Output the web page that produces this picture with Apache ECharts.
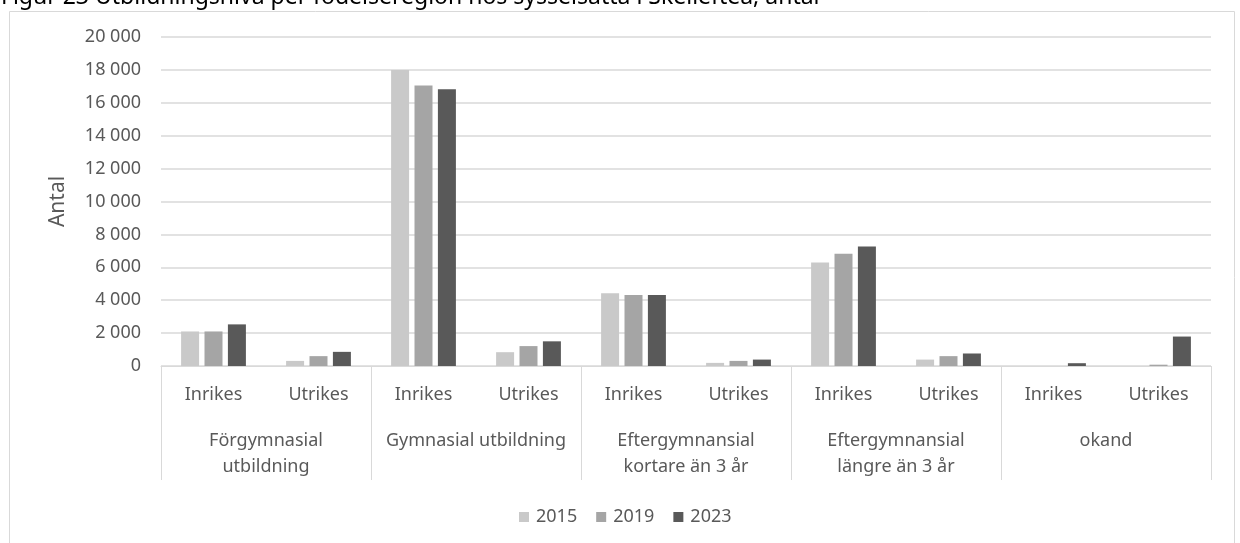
<!DOCTYPE html>
<html>
<head>
<meta charset="utf-8">
<script src="https://cdn.jsdelivr.net/npm/echarts@6/dist/echarts.min.js"></script>
<style>
  html, body { margin: 0; padding: 0; background: #fff; }
  #Canvas1 { width: 1240px; height: 543px; }
</style>
</head>
<body>
<div id="Canvas1"></div>
<script>
// data
var regions = ['Inrikes', 'Utrikes', 'Inrikes', 'Utrikes', 'Inrikes', 'Utrikes', 'Inrikes', 'Utrikes', 'Inrikes', 'Utrikes'];
var levels = ['Förgymnasial\nutbildning', 'Gymnasial utbildning', 'Eftergymnansial\nkortare än 3 år', 'Eftergymnansial\nlängre än 3 år', 'okand'];
var years = ['2015', '2019', '2023'];
var v2015 = [2100, 310, 17990, 840, 4430, 190, 6290, 390, 0, 0];
var v2019 = [2100, 600, 17050, 1210, 4310, 310, 6820, 600, 0, 80];
var v2023 = [2530, 860, 16830, 1500, 4310, 390, 7270, 760, 170, 1790];
var yTicks = { min: 0, max: 20000, step: 2000 };

var txt = '#595959';
var font = 'Noto Sans';

function fmt(v) {
    return String(v).replace(/\B(?=(\d{3})+(?!\d))/g, ' ');
}

var myChart = echarts.init(document.getElementById('Canvas1'));
var option = {
    animation: false,
    textStyle: { fontFamily: font },
    color: ['#C9C9C9', '#A5A5A5', '#595959'],
    title: {
        text: 'Figur 23 Utbildningsnivå per födelseregion hos sysselsatta i Skellefteå, antal',
        left: 1,
        top: -14,
        padding: 0,
        textStyle: { fontFamily: font, fontSize: 23, fontWeight: 'normal', color: '#000' }
    },
    legend: {
        data: years,
        left: 514,
        top: 503,
        itemWidth: 10,
        itemHeight: 10,
        itemGap: 19,
        icon: 'rect',
        textStyle: { fontFamily: font, fontSize: 18, color: txt, padding: [0, 0, 0, 2] }
    },
    grid: { left: 161, right: 29, top: 37, bottom: 177 },
    xAxis: [
        {
            type: 'category',
            data: regions,
            axisLine: { lineStyle: { color: '#D9D9D9', width: 1 } },
            axisTick: { show: false },
            axisLabel: { color: txt, fontSize: 18, margin: 20, interval: 0 }
        },
        {
            type: 'category',
            data: levels,
            position: 'bottom',
            axisLine: { show: false },
            axisTick: { show: true, length: 114, interval: 0, lineStyle: { color: '#D9D9D9' } },
            axisLabel: { color: txt, fontSize: 18, margin: 62, lineHeight: 26, interval: 0 }
        }
    ],
    yAxis: {
        type: 'value',
        min: yTicks.min,
        max: yTicks.max,
        interval: yTicks.step,
        name: 'Antal',
        nameLocation: 'middle',
        nameGap: 92,
        nameTextStyle: { color: txt, fontSize: 21, fontFamily: font },
        axisLine: { show: false },
        axisTick: { show: false },
        splitLine: { lineStyle: { color: '#D9D9D9', width: 1.5 } },
        axisLabel: { color: txt, fontSize: 18, margin: 20, formatter: fmt }
    },
    graphic: [
        {
            type: 'rect',
            shape: { x: 9.5, y: 11.5, width: 1225, height: 560 },
            style: { fill: null, stroke: '#D9D9D9', lineWidth: 1 },
            silent: true
        }
    ],
    series: [
        { name: '2015', type: 'bar', data: v2015, barWidth: 18, barGap: '30%' },
        { name: '2019', type: 'bar', data: v2019, barWidth: 18, barGap: '30%' },
        { name: '2023', type: 'bar', data: v2023, barWidth: 18, barGap: '30%' }
    ]
};
myChart.setOption(option);
</script>
</body>
</html>
